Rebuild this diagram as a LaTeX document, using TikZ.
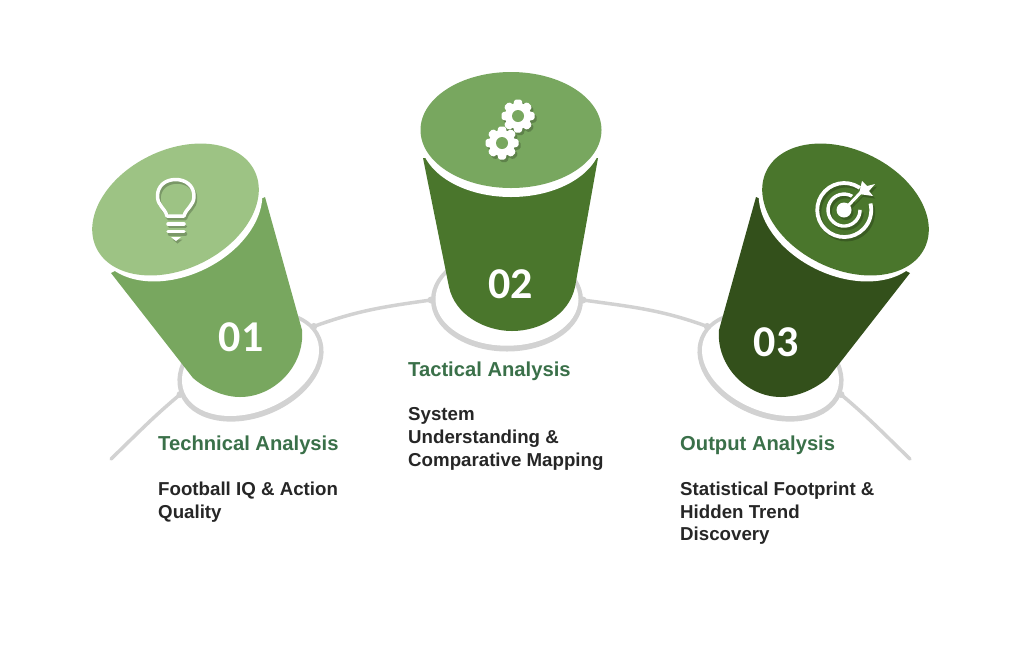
\documentclass[tikz,border=0pt]{standalone}
\usepackage{fontspec}
\setmainfont{Liberation Sans}
\newfontfamily\numfont{Carlito}
\usetikzlibrary{shapes.geometric}

\definecolor{palegreen}{HTML}{9DC384}
\definecolor{midgreen}{HTML}{78A75F}
\definecolor{deepgreen}{HTML}{4A762C}
\definecolor{darkgreen}{HTML}{33501B}
\definecolor{headgreen}{HTML}{3A7049}
\definecolor{bodygrey}{HTML}{262626}
\definecolor{ringgrey}{HTML}{D2D2D2}

\tikzset{
	ring/.style={shape=ellipse,fill=ringgrey,inner sep=0pt,outer sep=0pt,minimum width=152pt,minimum height=103pt},
	ringhole/.style={shape=ellipse,fill=white,inner sep=0pt,outer sep=0pt,minimum width=143pt,minimum height=93pt},
	link/.style={draw=ringgrey,line width=3.5pt,line cap=round},
	lid/.style={shape=ellipse,inner sep=0pt,outer sep=0pt,minimum width=181pt,minimum height=116pt},
	tiltlid/.style={shape=ellipse,inner sep=0pt,outer sep=0pt,minimum width=176pt,minimum height=119pt},
	number/.style={text=white,font=\numfont\fontsize{44}{44}\selectfont\bfseries},
	headline/.style={anchor=base west,inner sep=0pt,text=headgreen,font=\fontsize{20.2}{20}\selectfont\bfseries},
	bodytext/.style={anchor=north west,inner sep=0pt,align=left,text=bodygrey,font=\fontsize{18.7}{22.8}\selectfont\bfseries}
}

\newcommand{\bulbicon}[2]{
	\begin{scope}[shift={(#1)}]
		\draw[#2,line width=3.5pt,line join=round] (167,216) .. controls (165,208) and (157.5,206) .. (157.5,196) .. controls (157.5,186) and (165,179.5) .. (175.7,179.5) .. controls (186,179.5) and (194,186) .. (194,196) .. controls (194,206) and (186,208) .. (184,216) -- cycle;
		\draw[#2,line width=3.5pt,line cap=round] (168,224) -- (184,224);
		\draw[#2,line width=3.5pt,line cap=round] (168,231.5) -- (184,231.5);
		\fill[#2] (171,237) -- (181,237) -- (176,241) -- cycle;
	\end{scope}
}

\newcommand{\gearicon}[2]{
	\begin{scope}[shift={(#1)}]
		\fill[#2] (0,0) circle[radius=13];
		\foreach \a in {0,45,...,315}
			\fill[#2,rotate=\a,rounded corners=1.5pt] (-5,-10) -- (-3.5,-16.5) -- (3.5,-16.5) -- (5,-10) -- cycle;
	\end{scope}
}

\newcommand{\targeticon}[2]{
	\begin{scope}[shift={(#1)}]
		\draw[#2,line width=3.8pt] (19,-19.4) arc[start angle=-46,end angle=-374,radius=27];
		\draw[#2,line width=3.4pt] (10.5,-12) arc[start angle=-49,end angle=-361,radius=16];
		\draw[deepgreen,line width=7pt] (9,-9.5) -- (20,-21);
		\fill[#2] (0,0) circle[radius=7.5];
		\draw[#2,line width=3pt] (0,0) -- (20,-21);
		\fill[#2] (15,-16) -- (18,-29) -- (23,-24) -- (31,-26) -- (25,-19) -- (29,-14) -- cycle;
	\end{scope}
}

\begin{document}
\begin{tikzpicture}[x=1pt,y=-1pt]
	
	\useasboundingbox (0,0) rectangle (1024,657);
	
	\node[ring,rotate=22] (ringa) at (250.5,366) {};
	\node[ring] (ringb) at (507,300) {};
	\node[ring,rotate=-22] (ringc) at (770.5,366) {};
	\coordinate (enda) at (111,459);
	\coordinate (endc) at (910,459);
	
	\path[link] (ringa.west) to[out=220,in=44] (enda);
	\path[link] (ringa.10) to[out=20,in=188] (ringb.west);
	\path[link] (ringb.east) to[out=-8,in=160] (ringc.170);
	\path[link] (ringc.east) to[out=-40,in=136] (endc);
	
	\foreach \j in {ringa.west,ringa.10,ringb.west,ringb.east,ringc.170,ringc.east}
		\fill[ringgrey] (\j) circle[radius=3.5];
	
	\node[ringhole,rotate=22] (holea) at (250.5,365.2) {};
	\node[ringhole] (holeb) at (507,299.2) {};
	\node[ringhole,rotate=-22] (holec) at (770.5,365.2) {};
	
	% first cup
	\fill[midgreen] (111,273) -- (193,378) .. controls (207,390) and (225,397) .. (240,397) .. controls (275,397) and (305,365) .. (302,330) -- (265,197) -- cycle;
	\node[tiltlid,fill=white,rotate=26] (gapa) at (179,215.5) {};
	\node[tiltlid,fill=palegreen,rotate=26] (lida) at (175.5,209.5) {};
	
	% second cup
	\fill[deepgreen] (423,158) -- (449,287) .. controls (455,315) and (485,331) .. (512,331) .. controls (540,331) and (569,315) .. (575,287) -- (598,158) -- cycle;
	\node[lid,fill=white] (gapb) at (511,139) {};
	\node[lid,fill=midgreen] (lidb) at (511,130) {};
	
	% third cup
	\fill[darkgreen] (910,273) -- (828,378) .. controls (814,390) and (796,397) .. (781,397) .. controls (746,397) and (716,365) .. (719,330) -- (756,197) -- cycle;
	\node[tiltlid,fill=white,rotate=-26] (gapc) at (842,215.5) {};
	\node[tiltlid,fill=deepgreen,rotate=-26] (lidc) at (845.5,209.5) {};
	
	% icons
	\bulbicon{1.5,2.5}{black!22!palegreen}
	\bulbicon{0,0}{white}
	\gearicon{520,118.5}{black!22!midgreen}
	\gearicon{504,145.5}{black!22!midgreen}
	\gearicon{518,116}{white}
	\gearicon{502,143}{white}
	\fill[midgreen] (518,116) circle[radius=6];
	\fill[midgreen] (502,143) circle[radius=6];
	\targeticon{846,212.5}{black!22!deepgreen}
	\targeticon{844,210}{white}
	
	\node[number] (numa) at (241,337) {01};
	\node[number] (numb) at (510.5,284) {02};
	\node[number] (numc) at (776,342) {03};
	
	\node[headline] (heada) at (158,450) {Technical Analysis};
	\node[bodytext] (texta) at (158,481.5) {Football IQ \& Action\\Quality};
	\node[headline] (headb) at (408,376) {Tactical Analysis};
	\node[bodytext] (textb) at (408,407.5) {System\\Understanding \&\\Comparative Mapping};
	\node[headline] (headc) at (680,450) {Output Analysis};
	\node[bodytext] (textc) at (680,481.5) {Statistical Footprint \&\\Hidden Trend\\Discovery};
	
\end{tikzpicture}
\end{document}
